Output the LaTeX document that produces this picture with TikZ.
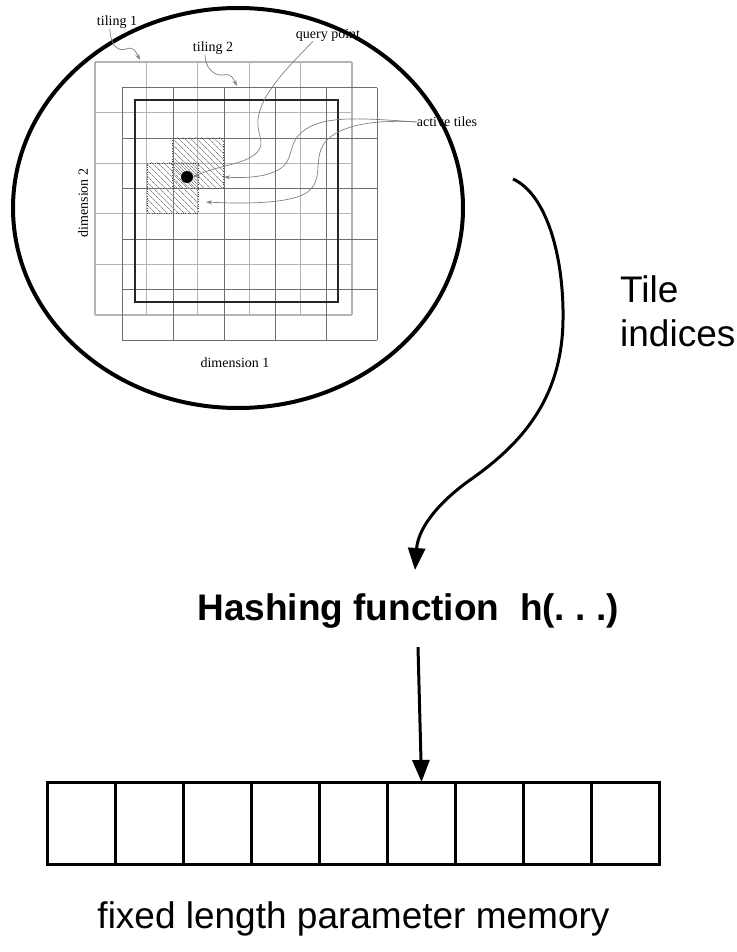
\documentclass[tikz,border=0pt]{standalone}
\usepackage{fontspec}
\setmainfont{Liberation Serif}
\newfontfamily\arialfont{Liberation Sans}
\usetikzlibrary{arrows.meta, positioning, patterns.meta}
\definecolor{tilegray}{HTML}{b4b4b4}
\definecolor{tiledark}{HTML}{6e6e6e}
\definecolor{hatchgray}{HTML}{8c8c8c}

\begin{document}
\begin{tikzpicture}[x=1pt, y=-1pt,
    lbl/.style={font=\fontsize{14}{16}\selectfont, inner sep=0},
    bigtext/.style={font=\arialfont\fontsize{37}{44}\selectfont, inner sep=0},
    memcell/.style={draw, line width=3pt, minimum width=68.1pt, minimum height=82pt, inner sep=0, outer sep=0},
    activetile/.style={draw=black!70, dotted, pattern={Lines[angle=-45, distance=4pt, line width=0.7pt]}, pattern color=hatchgray, minimum width=51pt, minimum height=50pt, inner sep=0, outer sep=0},
    pointer/.style={draw=gray, line width=0.7pt, -{Stealth[length=6pt,width=4pt]}},
    bigarrow/.style={line width=3pt, -{Triangle[length=22pt,width=17pt]}}]
  \useasboundingbox (0,0) rectangle (736,952);

  % tile coding picture
  \draw[line width=4pt] (238,208) ellipse [x radius=225, y radius=200];
  \foreach \i in {0,...,5} {
    \draw[tilegray, line width=1.2pt] (95+51.4*\i,62) -- (95+51.4*\i,315);
    \draw[tilegray, line width=1.2pt] (95,62+50.6*\i) -- (352,62+50.6*\i);
  }
  \foreach \i in {0,...,5} {
    \draw[tiledark, line width=1pt] (122+51*\i,88) -- (122+51*\i,340);
    \draw[tiledark, line width=1pt] (122,88+50.4*\i) -- (377,88+50.4*\i);
  }
  \draw[line width=1.6pt, black!85] (135,100) rectangle (338,302);
  \node[activetile] (tileA) at (198,163) {};
  \node[activetile] (tileB) at (172.5,188) {};
  \node[circle, fill=black, inner sep=0, minimum size=12pt] (qp) at (187,177) {};

  \node[lbl] (tiling1) at (117,22) {tiling 1};
  \node[lbl] (tiling2) at (213,48) {tiling 2};
  \node[lbl] (query) at (328,35) {query point};
  \node[lbl] (active) at (447,122) {active tiles};
  \node[lbl, rotate=90] (dim2) at (83,203) {dimension 2};
  \node[lbl] (dim1) at (235,363) {dimension 1};

  \coordinate (t1tip) at (140,60);
  \coordinate (t2tip) at (237,86);
  \coordinate (tipA) at (224,177);
  \coordinate (tipB) at (206,202);
  \draw[pointer] ([xshift=-7pt]tiling1.south) .. controls (110,45) and (118,52) .. (126,49) .. controls (134,46) and (136,52) .. (t1tip);
  \draw[pointer] ([xshift=-8pt]tiling2.south) .. controls (205,68) and (214,76) .. (223,75) .. controls (231,73) and (233,78) .. (t2tip);
  \draw[pointer] ([xshift=-15pt]query.south) .. controls (285,70) and (255,100) .. (258,127) .. controls (260,140) and (268,150) .. (245,160) .. controls (230,166) and (212,168) .. (qp.east);
  \draw[pointer] (active.west) .. controls (360,118) and (322,115) .. (302,132) .. controls (286,145) and (296,162) .. (276,171) .. controls (262,178) and (240,178) .. (tipA);
  \draw[pointer] (active.west) .. controls (385,120) and (345,122) .. (327,140) .. controls (312,156) and (324,176) .. (310,190) .. controls (296,204) and (245,204) .. (tipB);

  % hashing into memory
  \node[bigtext, align=left, anchor=north west] (tileidx) at (620,275) {Tile\\indices};
  \node[bigtext, font=\arialfont\bfseries\fontsize{37}{44}\selectfont, anchor=base] (hash) at (408,620) {Hashing function\ \ h(.\ .\ .)};
  \coordinate (idxstart) at (513,179);
  \draw[bigarrow] (idxstart) .. controls (548,195) and (564,260) .. (563,320) .. controls (562,400) and (520,445) .. (470,480) .. controls (435,505) and (418,530) .. ([xshift=7pt, yshift=23pt]hash.north);

  \node[memcell] (mem1) at (81.05,823) {};
  \foreach \k [count=\prev from 1] in {2,...,9}
    \node[memcell, right=0pt of mem\prev] (mem\k) {};
  \draw[bigarrow] ([xshift=10pt, yshift=-19pt]hash.south) -- (mem6.north);
  \node[bigtext, anchor=base] (memlabel) at (353.5,928) {fixed length parameter memory};
\end{tikzpicture}
\end{document}
